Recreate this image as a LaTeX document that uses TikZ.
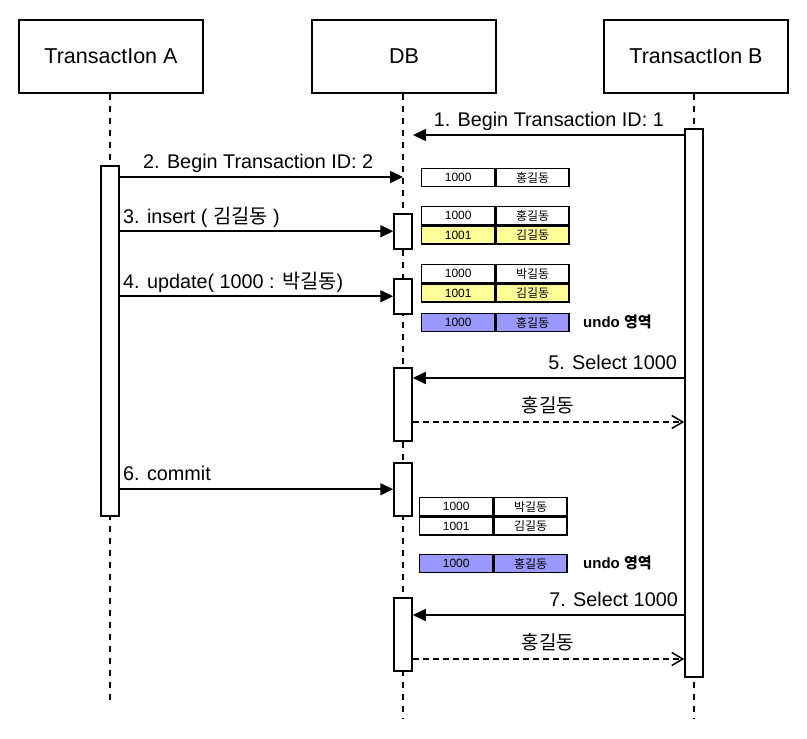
\documentclass[tikz,border=0pt]{standalone}
\usepackage{fontspec}
\setmainfont{Liberation Sans}
\newfontfamily\kr{Noto Sans CJK KR}
\usetikzlibrary{arrows.meta}
\definecolor{rowyellow}{RGB}{255,255,153}
\definecolor{rowblue}{RGB}{153,153,255}
\begin{document}
\begin{tikzpicture}[x=1pt,y=-1pt,
 head/.style={draw,line width=1.5pt,minimum width=184pt,minimum height=73pt,inner sep=0,font=\fontsize{21.5}{24}\selectfont},
 life/.style={line width=1.5pt,dash pattern=on 6pt off 6pt},
 act/.style={draw,fill=white,line width=1.5pt,minimum width=18pt,inner sep=0,anchor=north},
 msg/.style={line width=1.6pt,-{Triangle[length=13pt,width=12pt]}},
 ret/.style={line width=1.5pt,dash pattern=on 6pt off 4pt,-{Straight Barb[length=11pt,width=13pt]}},
 lbl/.style={inner sep=0,font=\fontsize{19.8}{22}\selectfont},
 cell/.style={draw,line width=1.4pt,minimum width=73pt,minimum height=18pt,inner sep=0,anchor=north west,font=\fontsize{12}{13}\selectfont},
 undo/.style={inner sep=0,anchor=west,font=\fontsize{15}{17}\selectfont\bfseries}
 ]
\useasboundingbox (0,0) rectangle (807,739);
% headers
\node[head] (hA) at (111,56.5) {TransactIon A};
\node[head] (hDB) at (404,56.5) {DB};
\node[head] (hB) at (696,56.5) {TransactIon B};
% lifeline ends
\coordinate (eA) at (110,700);
\coordinate (eDB) at (403,719);
\coordinate (eB) at (694,719);
\draw[life] (hA.south -| eA) -- (eA);
\draw[life] (hDB.south -| eDB) -- (eDB);
\draw[life] (hB.south -| eB) -- (eB);
% activations
\node[act,minimum height=350pt] (aA) at (110,165) {};
\node[act,minimum height=548pt] (aB) at (694,128) {};
\node[act,minimum height=35pt] (d1) at (403,213) {};
\node[act,minimum height=35pt] (d2) at (403,278) {};
\node[act,minimum height=73pt] (d3) at (403,367) {};
\node[act,minimum height=53pt] (d4) at (403,462) {};
\node[act,minimum height=73pt] (d5) at (403,597) {};
% message 1
\coordinate (m1e) at (413,135);
\draw[msg] (aB.west |- m1e) -- (m1e);
\node[lbl,anchor=base east] (l1) at (664,126) {1. Begin Transaction ID: 1};
% message 2
\coordinate (m2e) at (403,177);
\draw[msg] (aA.east |- m2e) -- (m2e);
\node[lbl,anchor=base west] (l2) at (143,168) {2. Begin Transaction ID: 2};
% message 3
\draw[msg] (aA.east |- d1.west) -- (d1.west);
\node[lbl,anchor=base west] (l3) at (123,223) {3. insert ( {\kr 김길동} )};
% message 4
\draw[msg] (aA.east |- d2.west) -- (d2.west);
\node[lbl,anchor=base west] (l4) at (123,288) {4. update( 1000 : {\kr 박길동})};
% message 5 and return
\coordinate (m5) at (0,378);
\draw[msg] (aB.west |- m5) -- (d3.east |- m5);
\node[lbl,anchor=base east] (l5) at (677,369) {5. Select 1000};
\coordinate (r5) at (0,422);
\draw[ret] (d3.east |- r5) -- (aB.west |- r5);
\node[lbl,anchor=base,font=\kr\fontsize{19}{22}\selectfont] (lr5) at (548,412) {홍길동};
% message 6
\draw[msg] (aA.east |- d4.west) -- (d4.west);
\node[lbl,anchor=base west] (l6) at (123,480) {6. commit};
% message 7 and return
\coordinate (m7) at (0,615);
\draw[msg] (aB.west |- m7) -- (d5.east |- m7);
\node[lbl,anchor=base east] (l7) at (678,606) {7. Select 1000};
\coordinate (r7) at (0,659);
\draw[ret] (d5.east |- r7) -- (aB.west |- r7);
\node[lbl,anchor=base,font=\kr\fontsize{19}{22}\selectfont] (lr7) at (548,649) {홍길동};
% tables
\node[cell] (t1a) at (421,168) {1000};
\node[cell] (t1b) at (t1a.north east) {\kr 홍길동};
\node[cell] (t2a) at (421,206) {1000};
\node[cell] (t2b) at (t2a.north east) {\kr 홍길동};
\node[cell,fill=rowyellow] (t2c) at (t2a.south west) {1001};
\node[cell,fill=rowyellow] (t2d) at (t2c.north east) {\kr 김길동};
\node[cell] (t3a) at (421,264) {1000};
\node[cell] (t3b) at (t3a.north east) {\kr 박길동};
\node[cell,fill=rowyellow] (t3c) at (t3a.south west) {1001};
\node[cell,fill=rowyellow] (t3d) at (t3c.north east) {\kr 김길동};
\node[cell,fill=rowblue] (u1a) at (421,313) {1000};
\node[cell,fill=rowblue] (u1b) at (u1a.north east) {\kr 홍길동};
\node[undo] (u1l) at (583,322) {undo {\kr\bfseries 영역}};
\node[cell] (t4a) at (419,497) {1000};
\node[cell] (t4b) at (t4a.north east) {\kr 박길동};
\node[cell] (t4c) at (t4a.south west) {1001};
\node[cell] (t4d) at (t4c.north east) {\kr 김길동};
\node[cell,fill=rowblue] (u2a) at (419,554) {1000};
\node[cell,fill=rowblue] (u2b) at (u2a.north east) {\kr 홍길동};
\node[undo] (u2l) at (583,563) {undo {\kr\bfseries 영역}};
\end{tikzpicture}
\end{document}
